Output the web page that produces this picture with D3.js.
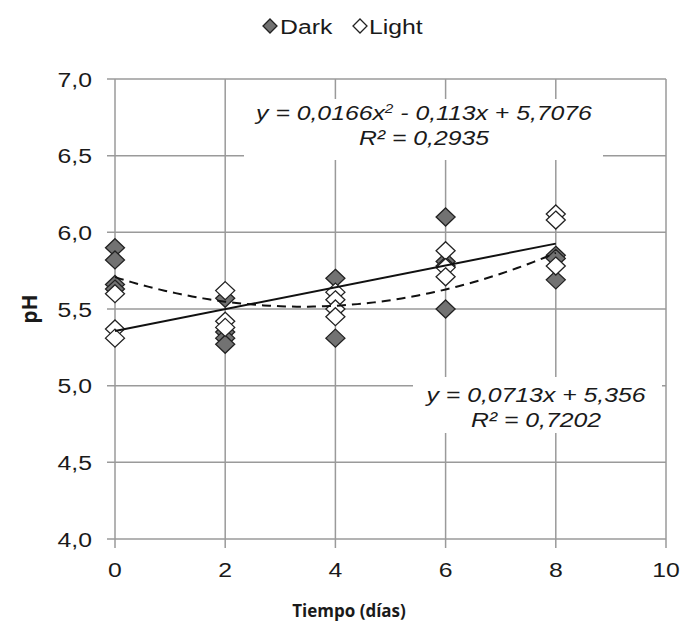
<!DOCTYPE html>
<html>
<head>
<meta charset="utf-8">
<script src="https://cdn.jsdelivr.net/npm/d3@7"></script>
<style>
  body { margin: 0; background: #fff; }
  svg { font-family: "Liberation Sans", Arial, sans-serif; }
</style>
</head>
<body>
<script>
// pH vs time, two treatments
var darkPts = [
  [0, 5.90], [0, 5.82], [0, 5.66], [0, 5.63],
  [2, 5.57], [2, 5.35], [2, 5.31], [2, 5.27],
  [4, 5.70], [4, 5.31],
  [6, 6.10], [6, 5.81], [6, 5.78], [6, 5.50],
  [8, 5.85], [8, 5.83], [8, 5.69]
];
var lightPts = [
  [0, 5.60], [0, 5.37], [0, 5.31],
  [2, 5.62], [2, 5.42], [2, 5.38],
  [4, 5.61], [4, 5.56], [4, 5.50], [4, 5.45],
  [6, 5.88], [6, 5.77], [6, 5.71],
  [8, 6.12], [8, 6.08], [8, 5.78]
];
var xTicks = [0, 2, 4, 6, 8, 10];
var yTicks = [4.0, 4.5, 5.0, 5.5, 6.0, 6.5, 7.0];
// trendline coefficients shown in the chart
var quadCoef = [5.7076, -0.113, 0.0166];
var linCoef = [5.356, 0.0713];

var W = 685, H = 635;
var m = { top: 79, left: 115, right: 19, bottom: 96 };
var w = W - m.left - m.right;
var h = H - m.top - m.bottom;
var STRETCH = 1.18; // the original text is a bit wide

var svg = d3.select("body").append("svg")
            .attr("width", W)
            .attr("height", H);

var x = d3.scaleLinear().domain([0, 10]).range([0, w]);
var y = d3.scaleLinear().domain([4, 7]).range([h, 0]);
var fmt = function(d) { return d3.format(".1f")(d).replace(".", ","); };

// text placed at (tx,ty), stretched horizontally
function wideText(parent, tx, ty, anchor, size) {
  return parent.append("text")
    .attr("transform", "translate(" + tx + "," + ty + ") scale(" + STRETCH + ",1)")
    .attr("text-anchor", anchor).attr("font-size", size).attr("fill", "#1a1a1a");
}

var g = svg.append("g").attr("transform", "translate(" + m.left + "," + m.top + ")");

// gridlines
g.selectAll(".hg").data(yTicks).enter().append("line")
  .attr("x1", -8).attr("x2", w)
  .attr("y1", function(d) { return y(d); }).attr("y2", function(d) { return y(d); })
  .attr("stroke", "#9a9a9a").attr("stroke-width", 1.5);
g.selectAll(".vg").data(xTicks).enter().append("line")
  .attr("x1", function(d) { return x(d); }).attr("x2", function(d) { return x(d); })
  .attr("y1", 0).attr("y2", h + 9)
  .attr("stroke", "#9a9a9a").attr("stroke-width", 1.5);

// tick labels
yTicks.forEach(function(d) {
  wideText(g, -23, y(d) + 7.5, "end", 21).text(fmt(d));
});
xTicks.forEach(function(d) {
  wideText(g, x(d), h + 38, "middle", 21).text(d);
});

// markers
function diamond(hw, hh) {
  return "M0," + (-hh) + "L" + hw + ",0L0," + hh + "L" + (-hw) + ",0Z";
}
function drawPts(data, fill) {
  g.append("g").selectAll("path").data(data).enter().append("path")
    .attr("d", diamond(9.5, 9))
    .attr("transform", function(d) { return "translate(" + x(d[0]) + "," + y(d[1]) + ")"; })
    .attr("fill", fill).attr("stroke", "#222").attr("stroke-width", 1.3);
}
drawPts(darkPts, "#727272");
drawPts(lightPts, "#fff");

// trendlines
var xs = d3.range(0, 8.01, 0.1);
var line = d3.line().x(function(d) { return x(d[0]); }).y(function(d) { return y(d[1]); });
g.append("path")
  .datum(xs.map(function(t) { return [t, quadCoef[0] + quadCoef[1] * t + quadCoef[2] * t * t]; }))
  .attr("d", line).attr("fill", "none")
  .attr("stroke", "#111").attr("stroke-width", 2).attr("stroke-dasharray", "9,6");
g.append("path")
  .datum([0, 8].map(function(t) { return [t, linCoef[0] + linCoef[1] * t]; }))
  .attr("d", line).attr("fill", "none")
  .attr("stroke", "#111").attr("stroke-width", 2);

// equation labels
function eqLabel(box, cx, y0, lines) {
  var lg = svg.append("g");
  lg.append("rect").attr("x", box[0]).attr("y", box[1])
    .attr("width", box[2] - box[0]).attr("height", box[3] - box[1])
    .attr("fill", "#fff");
  lines.forEach(function(l, i) {
    var t = wideText(lg, cx, y0 + i * 25, "middle", 21).attr("font-style", "italic");
    l.forEach(function(p) {
      var s = t.append("tspan").text(p[0]);
      if (p[1]) s.attr("baseline-shift", "super").attr("font-size", 13);
    });
  });
}
eqLabel([244, 99, 603, 160], 424, 120, [
  [["y = 0,0166x"], ["2", true], [" - 0,113x + 5,7076"]],
  [["R² = 0,2935"]]
]);
eqLabel([413, 377, 662, 433], 536, 402, [
  [["y = 0,0713x + 5,356"]],
  [["R² = 0,7202"]]
]);

// legend
var leg = svg.append("g").attr("transform", "translate(0,26)");
leg.append("path").attr("d", diamond(7, 7)).attr("transform", "translate(270,0)")
  .attr("fill", "#727272").attr("stroke", "#222").attr("stroke-width", 1.3);
wideText(leg, 280, 7.5, "start", 21).text("Dark");
leg.append("path").attr("d", diamond(7, 7)).attr("transform", "translate(360,0)")
  .attr("fill", "#fff").attr("stroke", "#222").attr("stroke-width", 1.3);
wideText(leg, 369, 7.5, "start", 21).text("Light");

// axis titles
svg.append("text").attr("x", 349).attr("y", 617).attr("text-anchor", "middle")
  .attr("font-family", "'Open Sans', sans-serif").attr("font-weight", "bold")
  .attr("font-size", 17).attr("fill", "#1a1a1a").text("Tiempo (días)");
svg.append("text").attr("transform", "translate(37,309) rotate(-90)").attr("text-anchor", "middle")
  .attr("font-family", "'Open Sans', sans-serif").attr("font-weight", "bold")
  .attr("font-size", 21).attr("fill", "#1a1a1a").text("pH");
</script>
</body>
</html>
